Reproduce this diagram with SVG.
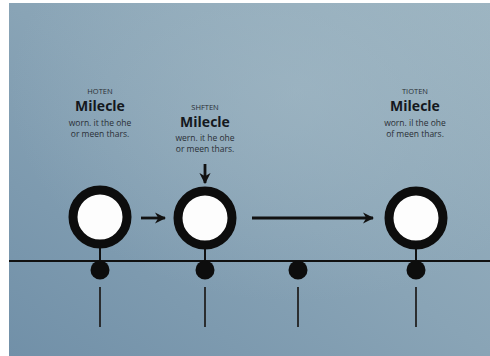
<svg xmlns="http://www.w3.org/2000/svg" width="490" height="356" viewBox="0 0 490 356">
<defs>
<linearGradient id="bg" x1="1" y1="0" x2="0" y2="1">
<stop offset="0" stop-color="#9cb4c1"/>
<stop offset="0.5" stop-color="#89a4b6"/>
<stop offset="1" stop-color="#7190a8"/>
</linearGradient>
<radialGradient id="glow" cx="0.6" cy="0.25" r="0.6">
<stop offset="0" stop-color="#a5bbc7" stop-opacity="0.5"/>
<stop offset="1" stop-color="#a5bbc7" stop-opacity="0"/>
</radialGradient>
<marker id="ah" viewBox="0 0 10 10" refX="9" refY="5" markerWidth="4" markerHeight="4" orient="auto" markerUnits="strokeWidth">
<path d="M0,0 L10,5 L0,10 L3,5 Z" fill="#111"/>
</marker>
</defs>
<style>
.ring{fill:#fdfdfd;stroke:#0d0d0d;stroke-width:9}
.stem{stroke:#111;stroke-width:2}
.dot{fill:#0d0d0d}
.tick{stroke:#222;stroke-width:1.8}
.conn{stroke:#111;stroke-width:2.8;fill:none}
.small{font-family:"Open Sans","DejaVu Sans",sans-serif;font-size:7.5px;fill:#2a2f36;text-anchor:middle}
.title{font-family:"Open Sans","DejaVu Sans",sans-serif;font-size:14px;font-weight:bold;fill:#14181d;text-anchor:middle}
.body{font-family:"Open Sans","DejaVu Sans",sans-serif;font-size:8.5px;fill:#2a2f36;text-anchor:middle}
</style>
<rect x="0" y="0" width="490" height="356" fill="#ffffff"/>
<rect x="9" y="3" width="481" height="353" fill="url(#bg)"/>
<rect x="9" y="3" width="481" height="353" fill="url(#glow)"/>
<line x1="9" y1="261" x2="490" y2="261" stroke="#111" stroke-width="2"/>
<g id="node1">
<line class="stem" x1="100" y1="246" x2="100" y2="268"/>
<circle class="ring" cx="100" cy="217" r="27"/>
<circle class="dot" cx="100" cy="270" r="9.5"/>
<line class="tick" x1="100" y1="287" x2="100" y2="327"/>
<text class="small" x="100" y="94">HOTEN</text>
<text class="title" x="100" y="111">Milecle</text>
<text class="body" x="100" y="126">worn. it the ohe</text>
<text class="body" x="100" y="137">or meen thars.</text>
</g>
<g id="node2">
<line class="stem" x1="205" y1="247" x2="205" y2="268"/>
<circle class="ring" cx="205" cy="218" r="27"/>
<circle class="dot" cx="205" cy="270" r="9.5"/>
<line class="tick" x1="205" y1="287" x2="205" y2="327"/>
<text class="small" x="205" y="110">SHFTEN</text>
<text class="title" x="205" y="127">Milecle</text>
<text class="body" x="205" y="141">wern. it he ohe</text>
<text class="body" x="205" y="152">or meen thars.</text>
</g>
<g id="node3">
<circle class="dot" cx="298" cy="270" r="9.5"/>
<line class="tick" x1="298" y1="287" x2="298" y2="327"/>
</g>
<g id="node4">
<line class="stem" x1="416" y1="247" x2="416" y2="268"/>
<circle class="ring" cx="416" cy="218" r="27"/>
<circle class="dot" cx="416" cy="270" r="9.5"/>
<line class="tick" x1="416" y1="287" x2="416" y2="327"/>
<text class="small" x="415" y="94">TIOTEN</text>
<text class="title" x="415" y="111">Milecle</text>
<text class="body" x="415" y="126">worn. il the ohe</text>
<text class="body" x="415" y="137">of meen thars.</text>
</g>
<g id="connectors">
<line class="conn" x1="141" y1="218" x2="165" y2="218" marker-end="url(#ah)"/>
<line class="conn" x1="252" y1="218" x2="373" y2="218" marker-end="url(#ah)"/>
<line class="conn" x1="205" y1="164" x2="205" y2="183" marker-end="url(#ah)"/>
</g>
</svg>
